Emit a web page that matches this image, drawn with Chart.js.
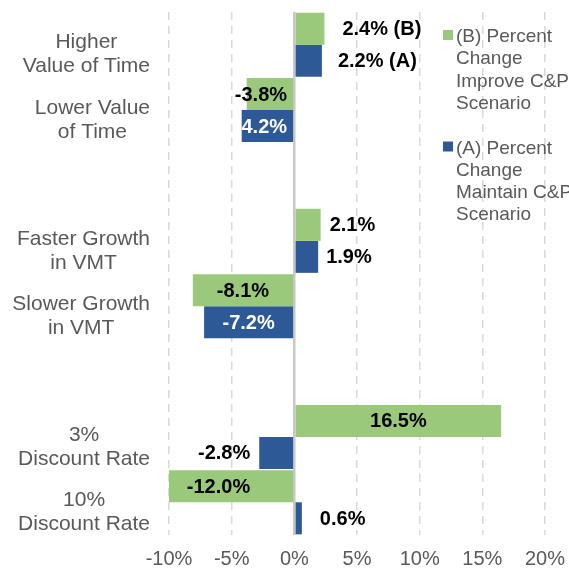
<!DOCTYPE html>
<html><head><meta charset="utf-8">
<script src="https://cdn.jsdelivr.net/npm/chart.js@4.4.1/dist/chart.umd.min.js"></script>
<style>html,body{margin:0;padding:0;background:#fff}#wrap{width:569px;height:570px;position:relative}</style>
</head><body><div id="wrap"><canvas id="c"></canvas></div>
<script>
// ---- data ----
const categories = [
  ['Higher', 'Value of Time'],
  ['Lower Value', 'of Time'],
  [''],
  ['Faster Growth', 'in VMT'],
  ['Slower Growth', 'in VMT'],
  [''],
  ['3%', 'Discount Rate'],
  ['10%', 'Discount Rate']
];
const seriesBName = ['(B) Percent', 'Change', 'Improve C&P', 'Scenario'];
const seriesAName = ['(A) Percent', 'Change', 'Maintain C&P', 'Scenario'];
const valuesB = [2.4, -3.8, null, 2.1, -8.1, null, 16.5, -12.0];
const valuesA = [2.2, -4.2, null, 1.9, -7.2, null, -2.8, 0.6];
const suffixB = [' (B)', '', '', '', '', '', '', ''];
const suffixA = [' (A)', '', '', '', '', '', '', ''];
const xTicks = [-10, -5, 0, 5, 10, 15, 20];

// ---- styles ----
const FONT = "'Liberation Sans', Arial, sans-serif";
const GRAY = '#595959';
const GREEN = '#9BC97B';
const BLUE = '#2D5A97';

const labelPlacement = {
  0: { place: ['out', 'base', null, 'out', 'center', null, 'center', 'center'], gap: [18, 6, 0, 9, 0, 0, 0, 0], suffix: suffixB },
  1: { place: ['out', 'base', null, 'out', 'center', null, 'out', 'out'], gap: [16, 6, 0, 8, 0, 0, 9, 18], suffix: suffixA }
};

const dataLabelsPlugin = {
  id: 'dataLabelsCustom',
  afterDatasetsDraw(chart) {
    const ctx = chart.ctx;
    ctx.save();
    ctx.font = 'bold 20px ' + FONT;
    ctx.textBaseline = 'middle';
    chart.data.datasets.forEach((ds, di) => {
      const meta = chart.getDatasetMeta(di);
      const cfg = labelPlacement[di];
      meta.data.forEach((el, i) => {
        const v = ds.data[i];
        if (v === null || v === undefined) return;
        const mode = cfg.place[i];
        const gap = cfg.gap[i];
        const txt = v.toFixed(1) + '%' + cfg.suffix[i];
        const p = el.getProps(['x', 'y', 'base'], true);
        let x, align, inside = false;
        if (mode === 'out') {
          if (v >= 0) { x = p.x + gap; align = 'left'; }
          else { x = p.x - gap; align = 'right'; }
        } else if (mode === 'center') {
          x = (p.x + p.base) / 2; align = 'center'; inside = true;
        } else {
          x = v < 0 ? p.base - gap : p.base + gap; align = v < 0 ? 'right' : 'left'; inside = true;
        }
        ctx.textAlign = align;
        ctx.fillStyle = (inside && di === 1) ? '#FFFFFF' : '#000000';
        ctx.fillText(txt, x, p.y + 1);
      });
    });
    ctx.restore();
  }
};

const catLabelPlugin = {
  id: 'catLabels',
  afterDraw(chart) {
    const ctx = chart.ctx;
    const ys = chart.scales.y;
    const right = chart.chartArea.left - 19;
    ctx.save();
    ctx.font = '21px ' + FONT;
    ctx.fillStyle = GRAY;
    ctx.textBaseline = 'middle';
    ctx.textAlign = 'center';
    categories.forEach((lines, i) => {
      const maxW = Math.max(...lines.map(l => ctx.measureText(l).width));
      const cx = right - maxW / 2;
      const c = ys.getPixelForTick(i) + 10;
      lines.forEach((l, j) => {
        ctx.fillText(l, cx, c + (j - (lines.length - 1) / 2) * 24);
      });
    });
    ctx.restore();
  }
};

const legendPlugin = {
  id: 'legendCustom',
  afterDraw(chart) {
    const ctx = chart.ctx;
    ctx.save();
    ctx.font = '19px ' + FONT;
    ctx.textBaseline = 'alphabetic';
    ctx.textAlign = 'left';
    const items = [
      { lines: seriesBName, color: GREEN, base: 42 },
      { lines: seriesAName, color: BLUE, base: 153.5 }
    ];
    items.forEach(it => {
      ctx.fillStyle = it.color;
      ctx.fillRect(443, it.base - 12, 10, 10);
      ctx.fillStyle = GRAY;
      it.lines.forEach((l, j) => ctx.fillText(l, 456, it.base + j * 22.3));
    });
    ctx.restore();
  }
};

new Chart(document.getElementById('c'), {
  type: 'bar',
  data: {
    labels: categories.map(l => l.join(' ')),
    datasets: [
      { label: seriesBName.join(' '), data: valuesB, backgroundColor: GREEN, borderWidth: 0 },
      { label: seriesAName.join(' '), data: valuesA, backgroundColor: BLUE, borderWidth: 0 }
    ]
  },
  options: {
    indexAxis: 'y',
    responsive: true,
    maintainAspectRatio: false,
    animation: false,
    datasets: { bar: { categoryPercentage: 0.98, barPercentage: 1.0 } },
    layout: { padding: { top: 12, right: 24, bottom: 0, left: 0 } },
    plugins: { legend: { display: false }, tooltip: { enabled: false } },
    scales: {
      x: {
        min: -10, max: 20,
        afterBuildTicks: s => { s.ticks = xTicks.map(v => ({ value: v })); },
        afterFit: s => { s.height = 35; s.paddingLeft = 0; s.paddingRight = 0; },
        grid: {
          drawTicks: false,
          color: c => (c.tick && c.tick.value === 0) ? '#C8C8C8' : '#D9D9D9',
          lineWidth: c => (c.tick && c.tick.value === 0) ? 2.5 : 1.5
        },
        border: { display: false, dash: c => (c.tick && c.tick.value === 0) ? [] : [8, 6] },
        ticks: {
          padding: 12,
          color: GRAY,
          font: { family: FONT, size: 20 },
          callback: v => v + '%'
        }
      },
      y: {
        afterFit: s => { s.width = 169; s.paddingTop = 0; s.paddingBottom = 0; },
        grid: { display: false },
        border: { display: false },
        ticks: { display: false }
      }
    }
  },
  plugins: [dataLabelsPlugin, catLabelPlugin, legendPlugin]
});
</script>
</body></html>
